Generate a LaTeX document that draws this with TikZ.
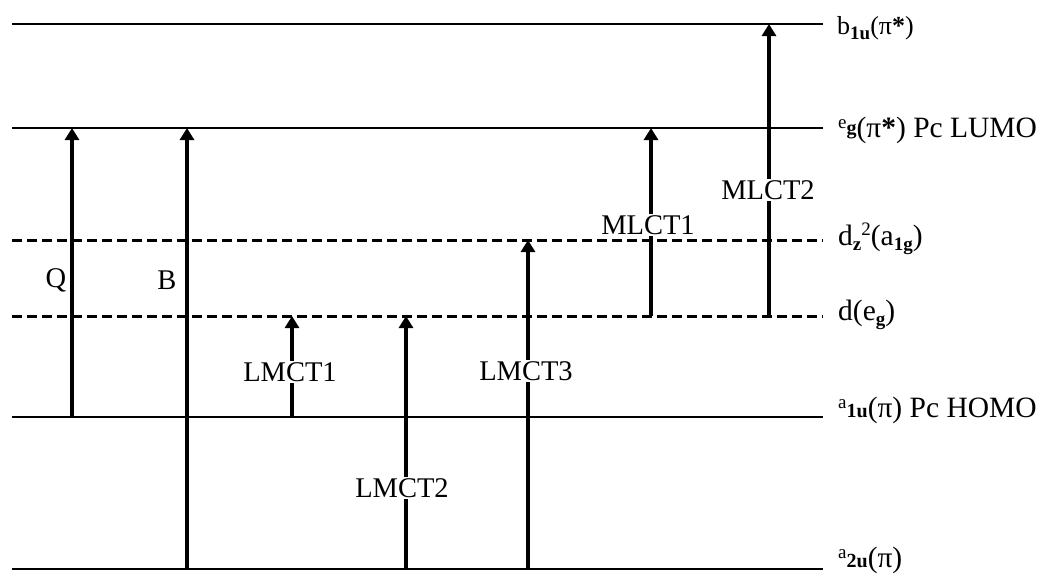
\documentclass[tikz,border=0pt]{standalone}
\usepackage{fontspec}
\setmainfont{Liberation Serif}
\usetikzlibrary{arrows.meta}

\newcommand{\lsub}[1]{\raisebox{-5pt}{\bfseries\fontsize{19}{19}\selectfont #1}}
\newcommand{\lsup}[1]{\raisebox{9pt}{\fontsize{19}{19}\selectfont #1}}
\newcommand{\lbf}[1]{{\bfseries\fontsize{20}{20}\selectfont #1}}

\tikzset{
    level/.style={line width=2.2pt},
    dlevel/.style={line width=3pt, dash pattern=on 10pt off 5pt},
    trans/.style={line width=4.5pt, -{Triangle[width=14pt,length=12pt]}},
    tlabel/.style={fill=white, inner sep=1pt, font=\fontsize{28.5}{30}\selectfont},
    orb/.style={anchor=base west, inner sep=0pt, font=\fontsize{29.5}{32}\selectfont},
}

\begin{document}
\begin{tikzpicture}[x=1pt, y=-1pt]
    \useasboundingbox (0,0) rectangle (1051,574);

    % levels
    \coordinate (b1u) at (12,24);
    \coordinate (eg) at (12,128);
    \coordinate (dz2) at (12,240);
    \coordinate (deg) at (12,316);
    \coordinate (a1u) at (12,417);
    \coordinate (a2u) at (12,569);

    \draw[level] (b1u) -- ++(811,0);
    \draw[level] (eg) -- ++(811,0);
    \draw[dlevel] (dz2) -- ++(811,0);
    \draw[dlevel] (deg) -- ++(811,0);
    \draw[level] (a1u) -- ++(811,0);
    \draw[level] (a2u) -- ++(811,0);

    \node[orb] (tb1u) at (837,34) {\fontsize{26}{28}\selectfont b\lsub{1u}(π\textbf{*})};
    \node[orb] (teg) at (838,137) {\lsup{e}\raisebox{3pt}{\lbf{g}}(π\textbf{*}) Pc LUMO};
    \node[orb] (tdz2) at (838,245) {d\lsub{z}\raisebox{10pt}{\fontsize{19}{19}\selectfont 2}(a\lsub{1g})};
    \node[orb] (tdeg) at (838,320) {d(e\lsub{g})};
    \node[orb] (ta1u) at (838,417) {\lsup{a}\lbf{1u}(π) Pc HOMO};
    \node[orb] (ta2u) at (838,567) {\lsup{a}\lbf{2u}(π)};

    % transitions
    \coordinate (cQ) at (72,0);
    \coordinate (cB) at (187,0);
    \coordinate (cL1) at (292,0);
    \coordinate (cL2) at (406,0);
    \coordinate (cL3) at (528,0);
    \coordinate (cM1) at (651,0);
    \coordinate (cM2) at (769,0);

    \draw[trans] (cQ |- a1u) -- (cQ |- eg);
    \draw[trans] (cB |- a2u) -- (cB |- eg);
    \draw[trans] (cL1 |- a1u) -- (cL1 |- deg);
    \draw[trans] (cL2 |- a2u) -- (cL2 |- deg);
    \draw[trans] (cL3 |- a2u) -- (cL3 |- dz2);
    \draw[trans] (cM1 |- deg) -- (cM1 |- eg);
    \draw[trans] (cM2 |- deg) -- (cM2 |- b1u);

    \node[tlabel] (lQ) at (56,280) {Q};
    \node[tlabel] (lB) at (167,280) {B};
    \node[tlabel] (lL1) at (290,372) {LMCT1};
    \node[tlabel] (lL2) at (402,488) {LMCT2};
    \node[tlabel] (lL3) at (526,371) {LMCT3};
    \node[tlabel] (lM1) at (648,225) {MLCT1};
    \node[tlabel] (lM2) at (768,190) {MLCT2};
\end{tikzpicture}
\end{document}
